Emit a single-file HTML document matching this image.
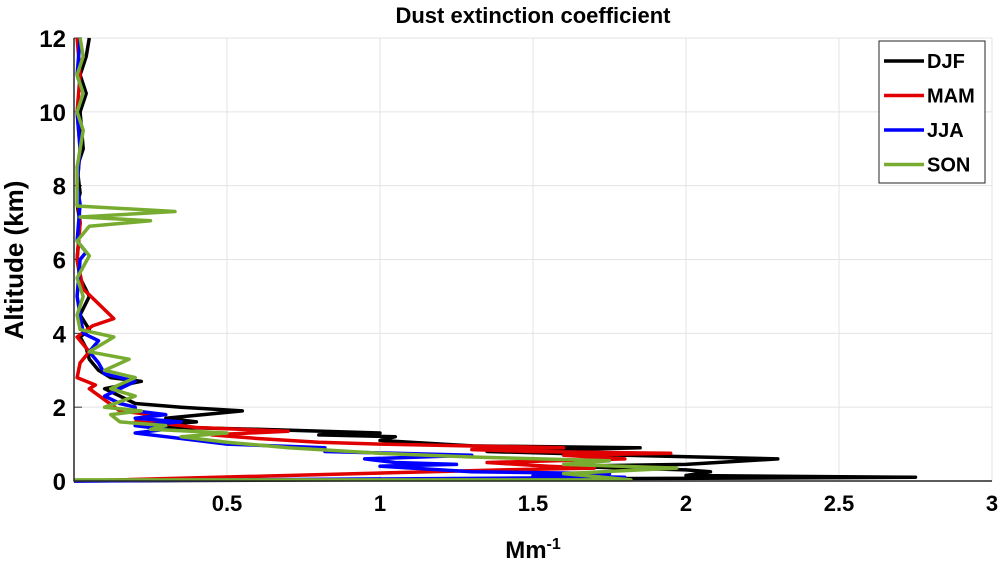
<!DOCTYPE html>
<html><head><meta charset="utf-8"><style>
body{margin:0;background:#fff;}
svg{display:block;font-family:"Liberation Sans",Arial,sans-serif;font-weight:bold;}
</style></head><body>
<svg id="chart" width="1003" height="568"></svg>
<script>
const xTicks=[0.5,1,1.5,2,2.5,3];
const xTickLabels=["0.5","1","1.5","2","2.5","3"];
const yTicks=[0,2,4,6,8,10,12];
const yTickLabels=["0","2","4","6","8","10","12"];
const seriesNames=["DJF","MAM","JJA","SON"];
const seriesColors=["#000000","#e00000","#0000ff","#77ac30"];
const djf=[[0,0],[2.75,0.1],[2.0,0.15],[2.08,0.25],[2.0,0.3],[1.6,0.4],[2.0,0.45],[2.3,0.6],[1.8,0.7],[1.35,0.8],[1.85,0.9],[1.3,0.95],[1.0,1.1],[1.05,1.2],[0.8,1.25],[1.0,1.3],[0.6,1.4],[0.35,1.45],[0.25,1.5],[0.4,1.6],[0.3,1.7],[0.55,1.9],[0.35,2.0],[0.2,2.1],[0.15,2.3],[0.1,2.5],[0.22,2.7],[0.12,2.8],[0.08,3.0],[0.05,3.3],[0.04,3.6],[0.02,3.9],[0.05,4.1],[0.02,4.5],[0.05,5.0],[0.02,5.5],[0.01,6],[0.02,7],[0.01,7.5],[0.02,7.8],[0.01,8.5],[0.03,9],[0.02,10],[0.04,10.5],[0.02,11],[0.04,11.5],[0.05,12]];
const mam=[[0,0],[1.4,0.3],[1.7,0.35],[1.55,0.4],[1.35,0.5],[1.8,0.6],[1.6,0.7],[1.95,0.75],[1.5,0.8],[1.3,0.85],[1.6,0.9],[1.0,1.0],[0.8,1.05],[0.6,1.15],[0.45,1.25],[0.7,1.35],[0.4,1.45],[0.3,1.55],[0.2,1.6],[0.25,1.8],[0.15,1.9],[0.1,2.2],[0.05,2.5],[0.07,2.6],[0.01,2.8],[0.02,3.2],[0.05,3.5],[0.01,3.9],[0.06,4.2],[0.13,4.4],[0.08,4.8],[0.03,5.2],[0.01,6],[0.02,7],[0.01,8],[0.02,9],[0.01,10],[0.02,11],[0.01,12]];
const jja=[[0,0],[1.8,0.1],[1.5,0.15],[1.75,0.2],[1.3,0.25],[1.0,0.4],[1.25,0.45],[1.05,0.5],[0.95,0.6],[1.3,0.7],[0.82,0.8],[0.82,0.9],[0.5,1.0],[0.4,1.1],[0.3,1.2],[0.2,1.3],[0.3,1.4],[0.2,1.5],[0.35,1.6],[0.2,1.7],[0.3,1.8],[0.2,1.9],[0.2,2.0],[0.15,2.1],[0.1,2.3],[0.2,2.7],[0.1,2.9],[0.08,3.2],[0.05,3.5],[0.08,3.8],[0.03,4.0],[0.02,4.5],[0.01,5],[0.02,6],[0.04,6.2],[0.01,6.5],[0.02,7.5],[0.01,8],[0.02,9],[0.01,10],[0.03,10.5],[0.01,11],[0.02,12]];
const son=[[0,0.03],[1.82,0.03],[1.6,0.2],[1.97,0.35],[1.6,0.45],[1.75,0.55],[1.3,0.65],[1.0,0.75],[0.7,0.9],[0.5,1.05],[0.35,1.2],[0.5,1.3],[0.25,1.4],[0.3,1.5],[0.15,1.6],[0.12,1.8],[0.22,1.9],[0.1,2.0],[0.2,2.3],[0.12,2.5],[0.2,2.8],[0.1,3.0],[0.18,3.3],[0.05,3.5],[0.13,3.9],[0.02,4.1],[0.01,4.5],[0.03,5],[0.01,5.5],[0.05,6.1],[0.01,6.5],[0.05,6.9],[0.25,7.05],[0.02,7.15],[0.33,7.3],[0.01,7.45],[0.01,8.5],[0.03,9.5],[0.01,10],[0.03,10.5],[0.01,11],[0.03,11.5],[0.02,12]];
const allSeries=[djf,mam,jja,son];

const NS="http://www.w3.org/2000/svg";
const svg=document.getElementById('chart');
const L=74,R=992,T=38,B=481;
const xs=v=>L+v/3*(R-L);
const ys=v=>B-v/12*(B-T);
function mk(tag,attrs,parent){const e=document.createElementNS(NS,tag);for(const k in attrs)e.setAttribute(k,attrs[k]);(parent||svg).appendChild(e);return e;}

xTicks.forEach((t,i)=>{
  const g=mk('line',{x1:xs(t),x2:xs(t),y1:T,y2:B,stroke:'#e3e3e3','stroke-width':1});
  
  
  const tx=mk('text',{x:xs(t),y:B+30,'text-anchor':'middle','font-size':22,fill:'#000'});
  tx.textContent=xTickLabels[i];
  
  
});
yTicks.forEach((t,i)=>{
  const g=mk('line',{x1:L,x2:R,y1:ys(t),y2:ys(t),stroke:'#e3e3e3','stroke-width':1});
  
  
  const tk=mk('line',{x1:L,x2:L+8,y1:ys(t),y2:ys(t),stroke:'#333','stroke-width':1});
  
  
  const tx=mk('text',{x:L-8,y:ys(t)+9,'text-anchor':'end','font-size':24,fill:'#000'});
  tx.textContent=yTickLabels[i];
  
  
});
allSeries.forEach((s,i)=>{
  const p=mk('polyline',{points:s.map(d=>xs(d[0]).toFixed(1)+','+ys(d[1]).toFixed(1)).join(' '),fill:'none',stroke:seriesColors[i],'stroke-width':3.5,'stroke-linejoin':'round'});
  
  
});
const ax=mk('path',{d:`M${L},${T}V${B}H${R}`,fill:'none',stroke:'#262626','stroke-width':1.5});


const lg=mk('g',{});


mk('rect',{x:879,y:41,width:106,height:142,fill:'#fff',stroke:'#262626','stroke-width':1},lg);
seriesNames.forEach((n,i)=>{
  const y=61+i*34.5;
  const ln=mk('line',{x1:884,x2:924,y1:y,y2:y,stroke:seriesColors[i],'stroke-width':3.5},lg);
  
  
  const t=mk('text',{x:927,y:y+7,'font-size':20,fill:'#000'},lg);
  t.textContent=n;
  
  
});
const ti=mk('text',{x:533,y:23,'text-anchor':'middle','font-size':22,fill:'#000'});
ti.textContent='Dust extinction coefficient';


const xt=mk('text',{x:533,y:558,'text-anchor':'middle','font-size':24,fill:'#000'});
xt.innerHTML='Mm<tspan dy="-9" font-size="16">-1</tspan>';


const yt=mk('text',{x:0,y:0,'text-anchor':'middle','font-size':26,fill:'#000',transform:'translate(23,260) rotate(-90)'});
yt.textContent='Altitude (km)';


</script>
</body></html>
